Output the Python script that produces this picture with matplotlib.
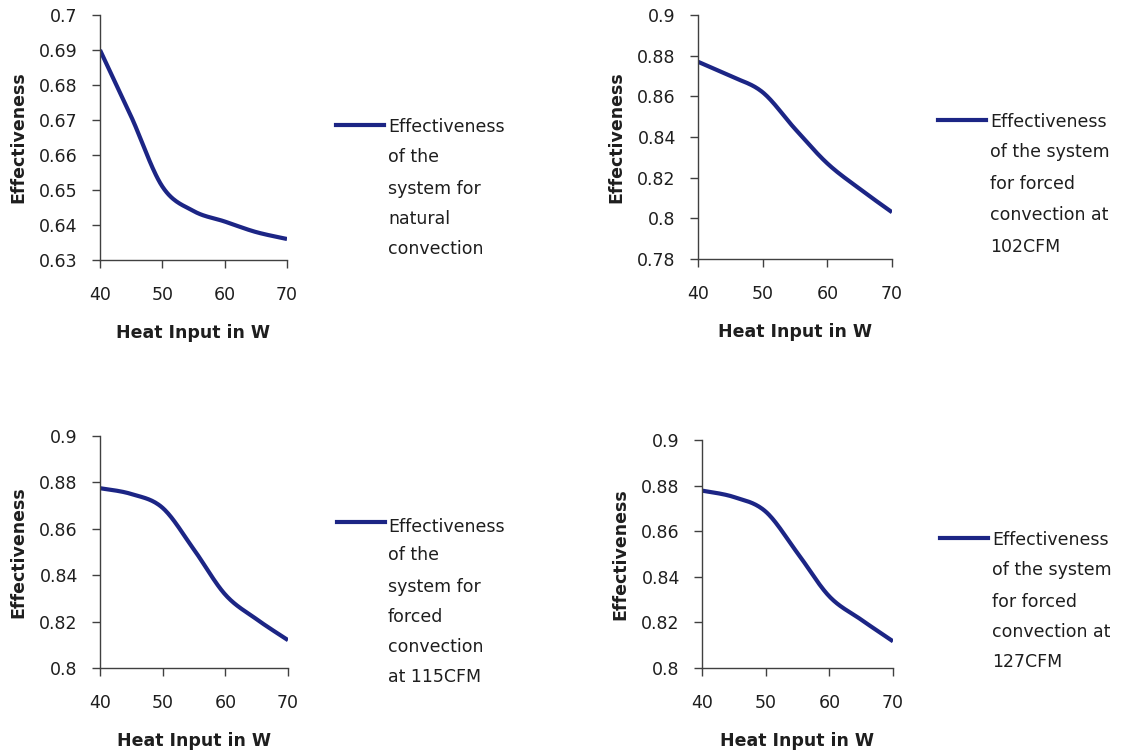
import numpy as np
import matplotlib
matplotlib.use("Agg")
import matplotlib.pyplot as plt

plt.rcParams['font.family'] = ['DejaVu Sans']

# heat input in W
heat_input = [40, 45, 50, 55, 60, 65, 70]

# effectiveness
eff_natural = [0.690, 0.671, 0.651, 0.644, 0.641, 0.638, 0.636]
eff_102cfm = [0.877, 0.870, 0.862, 0.844, 0.827, 0.8145, 0.803]
eff_115cfm = [0.8775, 0.875, 0.869, 0.851, 0.8316, 0.821, 0.812]
eff_127cfm = [0.8778, 0.875, 0.8686, 0.8504, 0.8314, 0.8212, 0.8117]

legend_lines = [
    ["Effectiveness", "of the", "system for", "natural", "convection"],
    ["Effectiveness", "of the system", "for forced", "convection at", "102CFM"],
    ["Effectiveness", "of the", "system for", "forced", "convection", "at 115CFM"],
    ["Effectiveness", "of the system", "for forced", "convection at", "127CFM"],
]
y_ranges = [(0.63, 0.70, 0.01), (0.78, 0.90, 0.02), (0.80, 0.90, 0.02), (0.80, 0.90, 0.02)]
y_ticklabels = [
    ["0.63", "0.64", "0.65", "0.66", "0.67", "0.68", "0.69", "0.7"],
    ["0.78", "0.8", "0.82", "0.84", "0.86", "0.88", "0.9"],
    ["0.8", "0.82", "0.84", "0.86", "0.88", "0.9"],
    ["0.8", "0.82", "0.84", "0.86", "0.88", "0.9"],
]
series = [eff_natural, eff_102cfm, eff_115cfm, eff_127cfm]

LINE_COLOR = "#1c2585"
TEXT_COLOR = "#1e1e1e"
W, H = 1133, 755

# axes boxes in pixels: left, top, right, bottom
boxes = [(100, 15, 287, 260), (698, 15, 892, 259),
         (100, 436, 288, 668), (702, 440, 893, 668)]
# legend: line start x, line y, text x, y of each text line
leg_line = [(336, 125), (938, 120), (337, 522), (940, 538)]
leg_text_x = [388, 990, 388, 992]
leg_rows = [[125, 155, 187, 217, 247],
            [120, 150, 182, 213, 245],
            [525, 553, 585, 615, 645, 675],
            [538, 568, 600, 630, 660]]


def smooth(x, y, n=30):
    # excel-like smoothed line (bezier between points, catmull-rom handles)
    x = np.asarray(x, float)
    y = np.asarray(y, float)
    px = np.concatenate([[x[0]], x, [x[-1]]])
    py = np.concatenate([[y[0]], y, [y[-1]]])
    xs, ys = [], []
    t = np.linspace(0, 1, n)
    for i in range(1, len(px) - 2):
        p0 = np.array([px[i], py[i]])
        p3 = np.array([px[i + 1], py[i + 1]])
        p1 = p0 + (np.array([px[i + 1], py[i + 1]]) - np.array([px[i - 1], py[i - 1]])) / 6
        p2 = p3 - (np.array([px[i + 2], py[i + 2]]) - np.array([px[i], py[i]])) / 6
        b = ((1 - t) ** 3)[:, None] * p0 + (3 * (1 - t) ** 2 * t)[:, None] * p1 \
            + (3 * (1 - t) * t ** 2)[:, None] * p2 + (t ** 3)[:, None] * p3
        xs.extend(b[:, 0])
        ys.extend(b[:, 1])
    return xs, ys


fig = plt.figure(figsize=(W / 100, H / 100), dpi=100)

for k in range(4):
    l, t, r, b = boxes[k]
    ax = fig.add_axes([l / W, 1 - b / H, (r - l) / W, (b - t) / H])
    sx, sy = smooth(heat_input, series[k])
    ax.plot(sx, sy, color=LINE_COLOR, lw=3, solid_capstyle='butt')

    lo, hi, step = y_ranges[k]
    ticks = np.arange(lo, hi + step / 2, step)
    ax.set_ylim(lo, hi)
    ax.set_yticks(ticks)
    ax.set_yticklabels(y_ticklabels[k])
    ax.set_xlim(40, 70)
    ax.set_xticks([40, 50, 60, 70])

    for s in ['top', 'right']:
        ax.spines[s].set_visible(False)
    for s in ['left', 'bottom']:
        ax.spines[s].set_color('#404040')
        ax.spines[s].set_linewidth(1)
    ax.tick_params(direction='out', length=6, width=1, color='#404040',
                   labelsize=12.5, labelcolor=TEXT_COLOR)
    ax.tick_params(axis='y', pad=10)
    ax.tick_params(axis='x', pad=13)

    ax.set_xlabel("Heat Input in W", fontsize=12.5, fontweight='bold', color=TEXT_COLOR)
    ax.set_ylabel("Effectiveness", fontsize=12.5, fontweight='bold', color=TEXT_COLOR)
    # label centres: 73 px below the x axis, 82 px left of the y axis
    ax.xaxis.set_label_coords(0.5, -73 / (b - t))
    ax.xaxis.label.set_va('center')
    ax.yaxis.set_label_coords(-82 / (r - l), 0.5)
    ax.yaxis.label.set_va('center')

    # legend drawn by hand to mimic excel's layout
    lx, ly = leg_line[k]
    fig.add_artist(plt.Line2D([lx / W, (lx + 48) / W], [1 - ly / H, 1 - ly / H],
                              color=LINE_COLOR, lw=3))
    for txt, ry in zip(legend_lines[k], leg_rows[k]):
        fig.text(leg_text_x[k] / W, 1 - ry / H, txt, fontsize=12.5,
                 va='center_baseline', ha='left', color=TEXT_COLOR)

fig.savefig("out.png", dpi=100)
